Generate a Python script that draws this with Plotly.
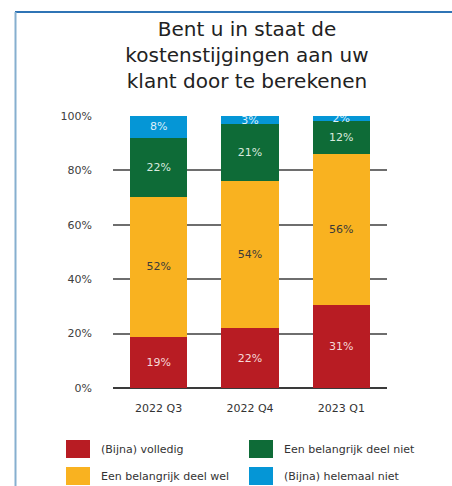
import plotly.graph_objects as go

categories = ["2022 Q3", "2022 Q4", "2023 Q1"]
series_names = ["(Bijna) volledig", "Een belangrijk deel wel",
                "Een belangrijk deel niet", "(Bijna) helemaal niet"]
volledig = [19, 22, 31]
deel_wel = [52, 54, 56]
deel_niet = [22, 21, 12]
helemaal_niet = [8, 3, 2]
y_tick_vals = [0, 20, 40, 60, 80, 100]
y_tick_text = [f"{v}%" for v in y_tick_vals]

series_values = [volledig, deel_wel, deel_niet, helemaal_niet]
colors = ["#B81C23", "#F9B220", "#0E6B37", "#0596D6"]
text_colors = ["#F6D9D9", "#3A3A3A", "#D9EADF", "#DDF0FA"]

W, H = 452, 486
L, R, T, B = 113, 65, 116, 98

fig = go.Figure()
for name, vals, col, tcol in zip(series_names, series_values, colors, text_colors):
    fig.add_trace(go.Bar(
        x=categories, y=vals, name=name,
        marker=dict(color=col, line=dict(width=0)),
        text=[f"{v}%" for v in vals],
        textposition="inside", insidetextanchor="middle",
        textangle=0,
        textfont=dict(family="DejaVu Sans", size=11, color=tcol),
        showlegend=False, hoverinfo="skip",
    ))

def px_x(px):
    return (px - L) / (W - L - R)

def px_y(py):
    return (H - B - py) / (H - T - B)

shapes = [
    dict(type="line", xref="paper", yref="paper", x0=px_x(15), x1=px_x(452),
         y0=px_y(12), y1=px_y(12), line=dict(color="#2F74B5", width=2)),
    dict(type="line", xref="paper", yref="paper", x0=px_x(15.5), x1=px_x(15.5),
         y0=px_y(12), y1=px_y(486), line=dict(color="#86AFCF", width=2)),
]
annotations = []
legend_pos = [(66, 440), (66, 467), (249, 440), (249, 467)]
for name, col, (lx, ly) in zip(series_names, colors, legend_pos):
    shapes.append(dict(type="rect", xref="paper", yref="paper",
                       x0=px_x(lx), x1=px_x(lx + 24), y0=px_y(ly + 18), y1=px_y(ly),
                       fillcolor=col, line=dict(width=0)))
    annotations.append(dict(xref="paper", yref="paper", x=px_x(lx + 33), y=px_y(ly + 9),
                            xanchor="left", yanchor="middle", showarrow=False,
                            text=name, font=dict(family="DejaVu Sans", size=11, color="#333333")))

fig.update_layout(
    width=W, height=H,
    margin=dict(l=L, r=R, t=T, b=B),
    paper_bgcolor="white", plot_bgcolor="white",
    barmode="stack", barnorm="percent", bargap=0.37,
    uniformtext=dict(mode="show", minsize=11),
    font=dict(family="DejaVu Sans", size=11, color="#404040"),
    title=dict(text="Bent u in staat de<br>kostenstijgingen aan uw<br>klant door te berekenen",
               x=247 / W, xanchor="center", xref="container",
               y=1 - 36 / H, yanchor="top", yref="container",
               font=dict(family="DejaVu Sans", size=20, color="#222222")),
    xaxis=dict(showgrid=False, showline=False, ticks="", ticklabelstandoff=12,
               tickfont=dict(size=11, color="#333333")),
    yaxis=dict(range=[0, 100], tickmode="array", tickvals=y_tick_vals, ticktext=y_tick_text,
               showgrid=True, gridcolor="#6E6E6E", gridwidth=1.5,
               zeroline=True, zerolinecolor="#3A3A3A", zerolinewidth=2,
               showline=False, ticks="", ticklabelstandoff=20,
               tickfont=dict(size=11, color="#404040")),
    shapes=shapes, annotations=annotations,
    showlegend=False,
)

fig.write_html("out.html", config={"displayModeBar": False},
               post_script="document.body.style.margin='0';")
